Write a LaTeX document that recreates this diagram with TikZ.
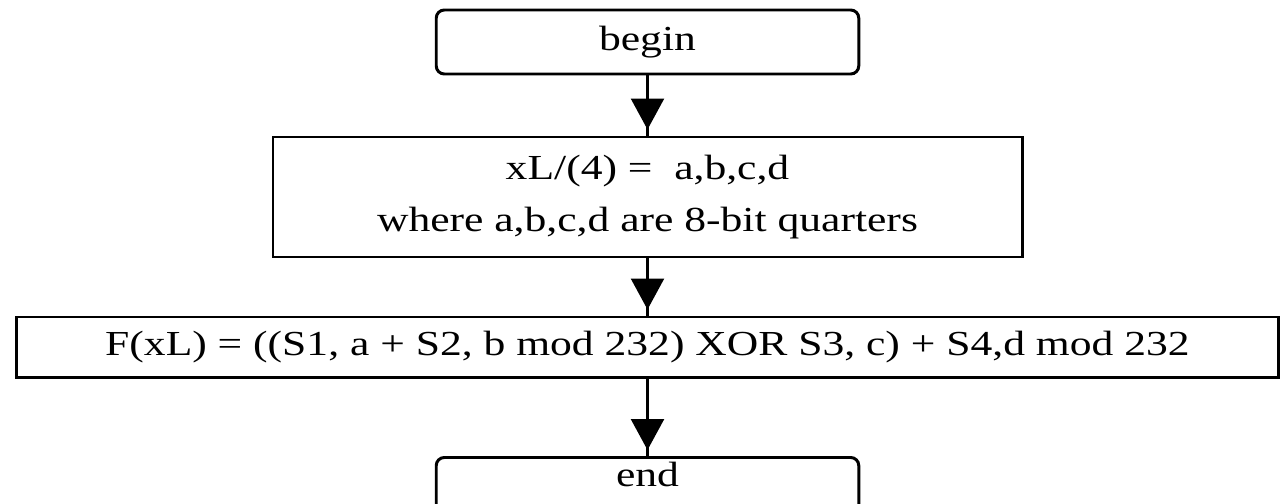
\documentclass[tikz,border=0pt]{standalone}
\usepackage{fontspec}
\setmainfont{Liberation Serif}[FakeStretch=1.24]
\usetikzlibrary{positioning}
\usetikzlibrary{arrows.meta, decorations.markings}

\tikzset{
  terminal/.style={draw, line width=1.7pt, rounded corners=0.16cm, inner sep=0pt,
    minimum width=8.45cm, minimum height=1.28cm},
  process/.style={draw, line width=1.7pt, inner sep=0pt, align=center},
  flow/.style={line width=1.4pt, postaction={decorate},
    decoration={markings, mark=at position -0.12cm with
      {\arrow{Triangle[width=0.66cm, length=0.62cm]}}}}
}

\begin{document}
\begin{tikzpicture}[font=\fontsize{20}{30}\selectfont]

\useasboundingbox (0,0) rectangle (25.6,10.06);
\clip (0,0) rectangle (25.6,10.06);

\node[terminal] (begin) at (12.95,9.22) {begin};
\node[process, minimum width=14.98cm, minimum height=2.4cm] (split) at (12.95,6.12)
  {xL/(4) =\ \ a,b,c,d\\ where a,b,c,d are 8-bit quarters};
\node[process, minimum width=25.24cm, minimum height=1.2cm] (func) at (12.95,3.12)
  {F(xL) = ((S1, a + S2, b mod 232) XOR S3, c) + S4,d mod 232};
% text sits near the top, the box runs off the page
\node[terminal, anchor=north, text height=0.58cm, text depth=0.7cm] (end) at (12.95,0.94) {end};

\draw[flow] (begin) -- (split);
\draw[flow] (split) -- (func);
\draw[flow] (func) -- (end);

\end{tikzpicture}
\end{document}
